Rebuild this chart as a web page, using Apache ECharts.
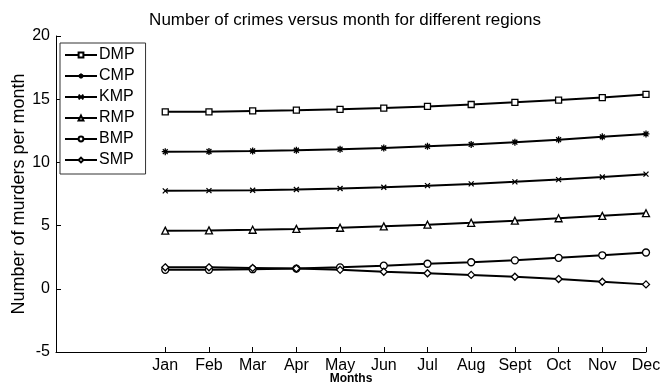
<!DOCTYPE html>
<html>
<head>
<meta charset="utf-8">
<script src="https://cdn.jsdelivr.net/npm/echarts@6/dist/echarts.min.js"></script>
<style>
  html, body { margin: 0; padding: 0; background: #fff; }
  #chart { width: 667px; height: 385px; }
</style>
</head>
<body>
<div id="chart"></div>
<script>
// Month labels and their positions on the numeric x axis
const months = ['Jan', 'Feb', 'Mar', 'Apr', 'May', 'Jun', 'Jul', 'Aug', 'Sept', 'Oct', 'Nov', 'Dec'];
const monthIndex = [1, 2, 3, 4, 5, 6, 7, 8, 9, 10, 11, 12];
const yTicks = [-5, 0, 5, 10, 15, 20];

// Monthly murder counts per region
const DMP = [14.0, 14.0, 14.07, 14.13, 14.2, 14.3, 14.43, 14.58, 14.75, 14.93, 15.13, 15.38];
const CMP = [10.85, 10.86, 10.9, 10.96, 11.04, 11.14, 11.27, 11.42, 11.6, 11.8, 12.02, 12.25];
const KMP = [7.75, 7.77, 7.8, 7.86, 7.94, 8.04, 8.16, 8.3, 8.46, 8.64, 8.85, 9.07];
const RMP = [4.6, 4.62, 4.67, 4.74, 4.83, 4.94, 5.07, 5.22, 5.39, 5.58, 5.77, 5.98];
const BMP = [1.5, 1.5, 1.55, 1.6, 1.7, 1.83, 1.98, 2.1, 2.25, 2.45, 2.65, 2.87];
const SMP = [1.7, 1.7, 1.65, 1.6, 1.5, 1.35, 1.23, 1.1, 0.95, 0.77, 0.56, 0.35];

const FONT = 'Liberation Sans, Arial, sans-serif';

// Stroked marker shapes
const ASTERISK = 'path://M5,0L5,10M0,5L10,5M1.5,1.5L8.5,8.5M1.5,8.5L8.5,1.5';
const CROSS = 'path://M0,0L10,10M0,10L10,0';

const regions = [
  { name: 'DMP', data: DMP, symbol: 'rect', size: 6 },
  { name: 'CMP', data: CMP, symbol: ASTERISK, size: 7 },
  { name: 'KMP', data: KMP, symbol: CROSS, size: 5 },
  { name: 'RMP', data: RMP, symbol: 'triangle', size: 7 },
  { name: 'BMP', data: BMP, symbol: 'circle', size: 7 },
  { name: 'SMP', data: SMP, symbol: 'diamond', size: 7 }
];

const series = regions.map(r => ({
  name: r.name,
  type: 'line',
  data: r.data.map((v, i) => [monthIndex[i], v]),
  symbol: r.symbol,
  symbolSize: r.size,
  showAllSymbol: true,
  lineStyle: { color: '#000', width: 2 },
  itemStyle: {
    color: (r.symbol.indexOf('path://') === 0) ? 'none' : '#fff',
    borderColor: '#000',
    borderWidth: 1.3
  },
  emphasis: { disabled: true },
  animation: false,
  z: 3
}));

const chart = echarts.init(document.getElementById('chart'), null, { renderer: 'canvas' });
chart.setOption({
  backgroundColor: '#fff',
  animation: false,
  title: {
    text: 'Number of crimes versus month for different regions',
    left: 340,
    textAlign: 'center',
    top: 7,
    textStyle: { fontFamily: FONT, fontSize: 17, fontWeight: 'normal', color: '#000' }
  },
  legend: {
    orient: 'vertical',
    left: 60,
    top: 43,
    padding: [4, 11, 6, 4],
    itemGap: 5,
    itemWidth: 32,
    itemHeight: 6,
    borderColor: '#333',
    borderWidth: 1,
    backgroundColor: '#fff',
    textStyle: { fontFamily: FONT, fontSize: 16, color: '#000', padding: [0, 0, 0, -3] },
    data: regions.map(r => r.name)
  },
  grid: { left: 56, right: 21, top: 36, bottom: 33, containLabel: false, outerBoundsMode: 'none' },
  xAxis: {
    type: 'value',
    min: -1.5,
    max: 12,
    name: 'Months',
    nameLocation: 'middle',
    nameGap: 21,
    nameMoveOverlap: false,
    nameTextStyle: { fontFamily: FONT, fontSize: 12, fontWeight: 'bold', color: '#000' },
    axisLine: { show: true, onZero: false, lineStyle: { color: '#000', width: 1 } },
    axisTick: { show: true, inside: true, length: 5, customValues: monthIndex, lineStyle: { color: '#000' } },
    axisLabel: {
      customValues: monthIndex,
      formatter: v => months[Math.round(v) - 1] || '',
      fontFamily: FONT, fontSize: 16, color: '#000', margin: 6
    },
    splitLine: { show: false }
  },
  yAxis: {
    type: 'value',
    min: yTicks[0],
    max: yTicks[yTicks.length - 1],
    interval: 5,
    name: 'Number of murders per month',
    nameLocation: 'middle',
    nameGap: 28,
    nameMoveOverlap: false,
    nameTextStyle: { fontFamily: FONT, fontSize: 18, color: '#000' },
    axisLine: { show: true, onZero: false, lineStyle: { color: '#000', width: 1 } },
    axisTick: { show: true, inside: true, length: 5, lineStyle: { color: '#000' } },
    axisLabel: { fontFamily: FONT, fontSize: 16, color: '#000', margin: 6 },
    splitLine: { show: false }
  },
  series: series
});
</script>
</body>
</html>
